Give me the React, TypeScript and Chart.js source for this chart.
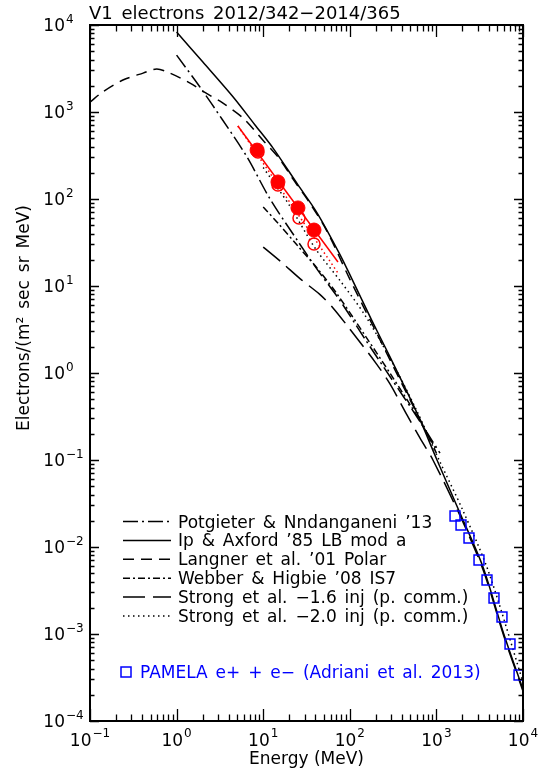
import React, { useEffect, useRef } from 'react';
import { Chart, registerables } from 'chart.js';

Chart.register(...registerables);

// ---------- text ----------
const chartTitle = 'V1 electrons 2012/342\u22122014/365';
const xAxisTitle = 'Energy (MeV)';
const yAxisTitle = 'Electrons/(m\u00b2 sec sr MeV)';
const tickBase = '10';
const xTickExponents = [-1, 0, 1, 2, 3, 4];
const xTickExpLabels = ['\u22121', '0', '1', '2', '3', '4'];
const yTickExponents = [-4, -3, -2, -1, 0, 1, 2, 3, 4];
const yTickExpLabels = ['\u22124', '\u22123', '\u22122', '\u22121', '0', '1', '2', '3', '4'];

// ---------- data ----------
// Voyager 1 electrons (red)
const v1FilledE = [8.5, 14.8, 25.2, 38.6];
const v1FilledV = [365, 157, 79, 44];
const v1OpenE = [8.7, 14.8, 25.9, 38.6];
const v1OpenV = [347, 145, 60.5, 30.4];
const v1FitE = [5.1, 73];
const v1FitV = [690, 18.9];
const v1FitDotE = [5.1, 73];
const v1FitDotV = [690, 14.1];

// PAMELA e+ + e-
const pamelaE = [1640, 1924, 2378, 3103, 3840, 4625, 5720, 7080, 9000];
const pamelaV = [0.0227, 0.0179, 0.0127, 0.0071, 0.00418, 0.00259, 0.00157, 0.000767, 0.000338];

// Potgieter & Nndanganeni '13
const potgieterE = [1, 1.86, 3.4, 6.5, 12, 24.5, 42, 77, 150, 300, 600, 1100];
const potgieterV = [4500, 1940, 809, 304, 100, 34, 15.5, 6.8, 2.45, 0.87, 0.31, 0.12];

// Ip & Axford '85 LB mod a
const ipE = [1, 2, 4.5, 8, 13, 25, 42, 77, 106, 180, 291, 597, 1016, 1870, 3450, 6000, 10000];
const ipV = [8300, 3780, 1490, 715, 385, 147, 69, 23, 12, 4.0, 1.53, 0.347, 0.1, 0.0246, 0.0059, 0.001, 0.00023];

// Langner et al. '01 Polar
const langnerE = [0.1, 0.14, 0.24, 0.41, 0.59, 0.84, 1.43, 2.0, 3.4, 5.85, 10, 15, 22, 35, 55, 100, 200, 400, 700, 1000];
const langnerV = [1300, 1700, 2330, 2800, 3120, 2800, 2150, 1740, 1270, 853, 470, 300, 170, 88, 42, 12, 3.0, 0.75, 0.25, 0.12];

// Webber & Higbie '08 IS7
const webberE = [10, 15, 25, 42, 70, 150, 300, 600, 1000];
const webberV = [81, 52, 29, 16, 8.3, 2.7, 0.95, 0.32, 0.13];

// Strong et al. -1.6 inj
const strong16E = [10, 16, 27, 45, 64, 100, 200, 291, 457, 645, 912, 1870, 3450, 6000, 10000];
const strong16V = [28, 19, 12, 8, 5.6, 3.2, 1.3, 0.75, 0.33, 0.18, 0.1, 0.023, 0.0055, 0.00095, 0.00022];

// Strong et al. -2.0 inj
const strong20E = [10, 20, 40, 80, 150, 300, 600, 1100, 2000, 4000, 10000];
const strong20V = [230, 85, 27, 11, 4.6, 1.4, 0.36, 0.095, 0.027, 0.0052, 0.00028];

const legendLabels = [
  'Potgieter & Nndanganeni \u201913',
  'Ip & Axford \u201985 LB mod a',
  'Langner et al. \u201901 Polar',
  'Webber & Higbie \u201908 IS7',
  'Strong et al. \u22121.6 inj (p. comm.)',
  'Strong et al. \u22122.0 inj (p. comm.)',
];
const pamelaLabel = 'PAMELA e+ + e\u2212 (Adriani et al. 2013)';

const FONT = '"DejaVu Sans", sans-serif';
const RED = '#ff0000';
const BLUE = '#0000ff';

const pts = (es: number[], vs: number[]) => es.map((e, i) => ({ x: e, y: vs[i] }));

const curveStyles: { dash: number[] }[] = [
  { dash: [15, 4, 2, 4] },
  { dash: [] },
  { dash: [11, 7] },
  { dash: [7, 3, 2, 3] },
  { dash: [22, 8] },
  { dash: [1.5, 3.5] },
];

const curveData = [
  [potgieterE, potgieterV],
  [ipE, ipV],
  [langnerE, langnerV],
  [webberE, webberV],
  [strong16E, strong16V],
  [strong20E, strong20V],
];

// draw text with extra space between words (Hershey-like wide spaces)
function spacedText(ctx: CanvasRenderingContext2D, text: string, x: number, y: number, extra: number, align: 'left' | 'center' = 'left') {
  const words = text.split(' ');
  const sp = ctx.measureText(' ').width + extra;
  const widths = words.map((w) => ctx.measureText(w).width);
  const total = widths.reduce((s, w) => s + w, 0) + sp * (words.length - 1);
  let cx = align === 'center' ? x - total / 2 : x;
  ctx.textAlign = 'left';
  words.forEach((w, i) => {
    ctx.fillText(w, cx, y);
    cx += widths[i] + sp;
  });
}

const axesPlugin = {
  id: 'idlAxes',
  afterDatasetsDraw(chart: any) {
    const { ctx, chartArea: a, scales } = chart;
    const xs = scales.x;
    const ys = scales.y;
    ctx.save();
    ctx.strokeStyle = '#000';
    ctx.fillStyle = '#000';
    ctx.setLineDash([]);
    // ticks
    ctx.lineWidth = 1.3;
    ctx.beginPath();
    for (const e of xTickExponents) {
      for (let k = 1; k <= 9; k++) {
        const v = k * Math.pow(10, e);
        if (v > xs.max * 1.0001) break;
        const px = Math.round(xs.getPixelForValue(v)) + 0.5;
        const len = k === 1 ? 12 : 6.5;
        ctx.moveTo(px, a.bottom);
        ctx.lineTo(px, a.bottom - len);
        ctx.moveTo(px, a.top);
        ctx.lineTo(px, a.top + len);
      }
    }
    for (const e of yTickExponents) {
      for (let k = 1; k <= 9; k++) {
        const v = k * Math.pow(10, e);
        if (v > ys.max * 1.0001) break;
        const py = Math.round(ys.getPixelForValue(v)) + 0.5;
        const len = k === 1 ? 9 : 4.5;
        ctx.moveTo(a.left, py);
        ctx.lineTo(a.left + len, py);
        ctx.moveTo(a.right, py);
        ctx.lineTo(a.right - len, py);
      }
    }
    ctx.stroke();
    // frame
    ctx.lineWidth = 2;
    ctx.strokeRect(a.left, a.top, a.right - a.left, a.bottom - a.top);

    // x tick labels
    const baseFont = `17px ${FONT}`;
    const expFont = `12px ${FONT}`;
    ctx.textBaseline = 'alphabetic';
    xTickExponents.forEach((e, i) => {
      const px = xs.getPixelForValue(Math.pow(10, e));
      ctx.font = baseFont;
      const wb = ctx.measureText(tickBase).width;
      ctx.font = expFont;
      const we = ctx.measureText(xTickExpLabels[i]).width;
      const start = px - (wb + we + 1) / 2;
      ctx.font = baseFont;
      ctx.textAlign = 'left';
      ctx.fillText(tickBase, start, a.bottom + 25);
      ctx.font = expFont;
      ctx.fillText(xTickExpLabels[i], start + wb + 1, a.bottom + 16);
    });
    // y tick labels
    yTickExponents.forEach((e, i) => {
      const py = ys.getPixelForValue(Math.pow(10, e));
      ctx.font = baseFont;
      ctx.textAlign = 'right';
      ctx.fillText(tickBase, a.left - 25, py + 6);
      ctx.font = expFont;
      ctx.textAlign = 'left';
      ctx.fillText(yTickExpLabels[i], a.left - 24, py - 2);
    });

    // titles
    ctx.font = `18px ${FONT}`;
    spacedText(ctx, chartTitle, a.left - 1, a.top - 6, 3);
    ctx.font = `17px ${FONT}`;
    spacedText(ctx, xAxisTitle, (a.left + a.right) / 2, a.bottom + 43, 0, 'center');
    ctx.save();
    ctx.translate(29, 318);
    ctx.rotate(-Math.PI / 2);
    spacedText(ctx, yAxisTitle, 0, 0, 2.5, 'center');
    ctx.restore();

    // legend
    const lx0 = a.left + 33;
    const lx1 = a.left + 81;
    const tx = a.left + 88;
    const y0 = 521.5;
    const dy = 18.9;
    legendLabels.forEach((label, i) => {
      const y = y0 + i * dy;
      ctx.beginPath();
      ctx.lineWidth = 1.5;
      ctx.setLineDash(curveStyles[i].dash);
      ctx.moveTo(lx0, y);
      ctx.lineTo(lx1, y);
      ctx.stroke();
      ctx.setLineDash([]);
      ctx.font = `17px ${FONT}`;
      spacedText(ctx, label, tx, y + 6, 2.5);
    });
    // PAMELA legend
    ctx.strokeStyle = BLUE;
    ctx.fillStyle = BLUE;
    ctx.lineWidth = 1.5;
    ctx.strokeRect(a.left + 31, 667, 10, 10);
    ctx.font = `17px ${FONT}`;
    spacedText(ctx, pamelaLabel, a.left + 50, 678, 2.5);
    ctx.restore();
  },
};

export default function App() {
  const ref = useRef<HTMLCanvasElement>(null);
  useEffect(() => {
    const canvas = ref.current!;
    const datasets: any[] = [
      {
        label: 'V1 filled',
        data: pts(v1FilledE, v1FilledV),
        showLine: false,
        pointRadius: 7,
        pointStyle: 'circle',
        backgroundColor: RED,
        borderColor: RED,
        borderWidth: 1,
      },
      {
        label: 'V1 open',
        data: pts(v1OpenE, v1OpenV),
        showLine: false,
        pointRadius: 6,
        pointStyle: 'circle',
        backgroundColor: 'rgba(0,0,0,0)',
        borderColor: RED,
        borderWidth: 1.5,
      },
      {
        label: 'V1 fit',
        data: pts(v1FitE, v1FitV),
        showLine: true,
        pointRadius: 0,
        borderColor: RED,
        borderWidth: 1.5,
      },
      {
        label: 'V1 fit dotted',
        data: pts(v1FitDotE, v1FitDotV),
        showLine: true,
        pointRadius: 0,
        borderColor: RED,
        borderWidth: 1.5,
        borderDash: [1.5, 3],
      },
      {
        label: pamelaLabel,
        data: pts(pamelaE, pamelaV),
        showLine: false,
        pointRadius: 7,
        pointStyle: 'rect',
        backgroundColor: 'rgba(0,0,0,0)',
        borderColor: BLUE,
        borderWidth: 1.5,
      },
      ...curveData.map(([es, vs], i) => ({
        label: legendLabels[i],
        data: pts(es, vs),
        showLine: true,
        pointRadius: 0,
        borderColor: '#000',
        borderWidth: 1.5,
        borderDash: curveStyles[i].dash,
        tension: 0.3,
      })),
    ];
    const chart = new Chart(canvas, {
      type: 'scatter',
      data: { datasets },
      options: {
        responsive: false,
        animation: false,
        devicePixelRatio: 1,
        layout: { padding: { left: 90, right: 19, top: 25, bottom: 55 } },
        plugins: {
          legend: { display: false },
          tooltip: { enabled: false },
          title: { display: false },
        },
        scales: {
          x: { type: 'logarithmic', min: 0.1, max: 10000, display: false },
          y: { type: 'logarithmic', min: 1e-4, max: 1e4, display: false },
        },
      } as any,
      plugins: [axesPlugin],
    });
    return () => chart.destroy();
  }, []);
  return (
    <div style={{ position: 'absolute', left: 0, top: 0, width: 542, height: 776, background: '#fff' }}>
      <canvas ref={ref} width={542} height={776} style={{ display: 'block' }} />
    </div>
  );
}
